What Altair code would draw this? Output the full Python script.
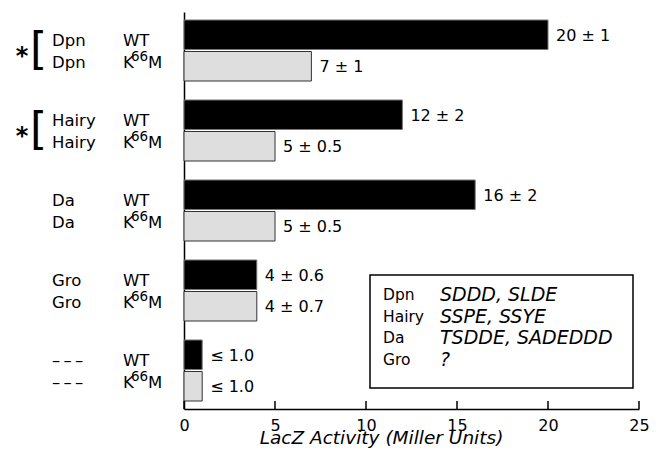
import altair as alt
import pandas as pd

# ---- data ----
groups = ["Dpn", "Hairy", "Da", "Gro", "–\u2009–\u2009–"]
variants = ["WT", "K66M"]
wt_values = [20, 12, 16, 4, 1.0]
k_values = [7, 5, 5, 4, 1.0]
wt_labels = ["20 ± 1", "12 ± 2", "16 ± 2", "4 ± 0.6", "≤ 1.0"]
k_labels = ["7 ± 1", "5 ± 0.5", "5 ± 0.5", "4 ± 0.7", "≤ 1.0"]
starred = ["Dpn", "Hairy"]
x_ticks = [0, 5, 10, 15, 20, 25]
legend_names = ["Dpn", "Hairy", "Da", "Gro"]
legend_motifs = ["SDDD, SLDE", "SSPE, SSYE", "TSDDE, SADEDDD", "?"]

rows = []
for g, wv, kv, wl, kl in zip(groups, wt_values, k_values, wt_labels, k_labels):
    rows.append(dict(group=g, variant="WT", value=wv, label=wl))
    rows.append(dict(group=g, variant="K66M", value=kv, label=kl))
df = pd.DataFrame(rows)
star_df = pd.DataFrame({"group": starred})
tick_df = pd.DataFrame({"value": x_ticks})
leg_df = pd.DataFrame({"names": ["\n".join(legend_names)],
                       "motifs": ["\n".join(legend_motifs)]})

FONT = "DejaVu Sans"
W, H = 455, 397

y_enc = alt.Y("group:N", sort=groups,
              scale=alt.Scale(paddingInner=0.2375, paddingOuter=0.1),
              axis=alt.Axis(labels=False, ticks=False, title=None,
                            domainColor="black", domainWidth=1.5))
yoff = alt.YOffset("variant:N", sort=variants,
                   scale=alt.Scale(paddingInner=0.0635, paddingOuter=0))
x_enc = alt.X("value:Q", scale=alt.Scale(domain=[0, 25], nice=False),
              axis=alt.Axis(values=x_ticks, ticks=False, grid=False,
                            labelFont=FONT, labelFontSize=16, labelPadding=8,
                            labelColor="black", labelFlush=False,
                            domainColor="black", domainWidth=1.5,
                            title="LacZ Activity (Miller Units)",
                            titleFont=FONT, titleFontSize=18.5,
                            titleFontStyle="italic", titleFontWeight="normal",
                            titleX=197, titleY=34, titleAlign="center",
                            titleBaseline="alphabetic", titleColor="black"))

bars = alt.Chart(df).mark_bar(strokeWidth=1).encode(
    x=x_enc, y=y_enc, yOffset=yoff,
    color=alt.Color("variant:N", scale=alt.Scale(domain=variants, range=["black", "#dedede"]), legend=None),
    stroke=alt.Stroke("variant:N", scale=alt.Scale(domain=variants, range=["#777777", "#333333"]), legend=None),
)

y_plain = alt.Y("group:N", sort=groups)
yoff_plain = alt.YOffset("variant:N", sort=variants)

values_txt = alt.Chart(df).mark_text(
    align="left", baseline="middle", dx=8, dy=1, font=FONT, fontSize=16, color="black"
).encode(x="value:Q", y=y_plain, yOffset=yoff_plain, text="label:N")

wt_rows = alt.Chart(df).transform_filter(alt.datum.variant == "WT")
k_rows = alt.Chart(df).transform_filter(alt.datum.variant == "K66M")

LBL = 16.5
name_wt = wt_rows.mark_text(align="left", baseline="middle", dy=-10, font=FONT,
                            fontSize=LBL, color="black").encode(
    x=alt.value(-132), y=y_plain, text="group:N")
name_k = k_rows.mark_text(align="left", baseline="middle", dy=12, font=FONT,
                          fontSize=LBL, color="black").encode(
    x=alt.value(-132), y=y_plain, text="group:N")
var_wt = wt_rows.mark_text(align="left", baseline="middle", dy=-10, font=FONT,
                           fontSize=LBL, color="black", text="WT").encode(
    x=alt.value(-61), y=y_plain)
var_k1 = k_rows.mark_text(align="left", baseline="middle", dy=12, font=FONT,
                          fontSize=LBL, color="black", text="K").encode(
    x=alt.value(-61), y=y_plain)
var_k2 = k_rows.mark_text(align="left", baseline="middle", dy=6, font=FONT,
                          fontSize=13.5, color="black", text="66").encode(
    x=alt.value(-53), y=y_plain)
var_k3 = k_rows.mark_text(align="left", baseline="middle", dy=12, font=FONT,
                          fontSize=LBL, color="black", text="M").encode(
    x=alt.value(-36), y=y_plain)

bracket = alt.Chart(star_df).mark_text(
    text="[", align="left", baseline="middle", font=FONT, fontSize=44, color="black"
).encode(x=alt.value(-154), y=y_plain)
star = alt.Chart(star_df).mark_text(
    text="*", align="center", baseline="middle", dy=6, font=FONT, fontSize=24,
    fontWeight="bold", color="black"
).encode(x=alt.value(-162), y=y_plain)

ticks = alt.Chart(tick_df).mark_rule(color="black", strokeWidth=1.5).encode(
    x="value:Q", y=alt.value(H - 8), y2=alt.value(H))

box = alt.Chart(leg_df).mark_rect(fill="white", stroke="black", strokeWidth=1.5).encode(
    x=alt.value(186), x2=alt.value(449), y=alt.value(263), y2=alt.value(376))
leg_names = alt.Chart(leg_df).mark_text(
    align="left", baseline="middle", lineBreak="\n", lineHeight=21.7,
    font=FONT, fontSize=15.5, color="black"
).encode(x=alt.value(199), y=alt.value(283), text="names:N")
leg_motifs = alt.Chart(leg_df).mark_text(
    align="left", baseline="middle", lineBreak="\n", lineHeight=21.7,
    font=FONT, fontSize=19, fontStyle="italic", color="black"
).encode(x=alt.value(256), y=alt.value(283), text="motifs:N")

chart = alt.layer(
    bars, values_txt, name_wt, name_k, var_wt, var_k1, var_k2, var_k3,
    bracket, star, ticks, box, leg_names, leg_motifs
).properties(
    width=W, height=H,
    autosize=alt.AutoSizeParams(type="none"),
    padding={"left": 176, "top": 4, "right": 14, "bottom": 39},
).configure_view(stroke="transparent")

chart.save("out.html", embed_options={"renderer": "svg", "actions": False})
